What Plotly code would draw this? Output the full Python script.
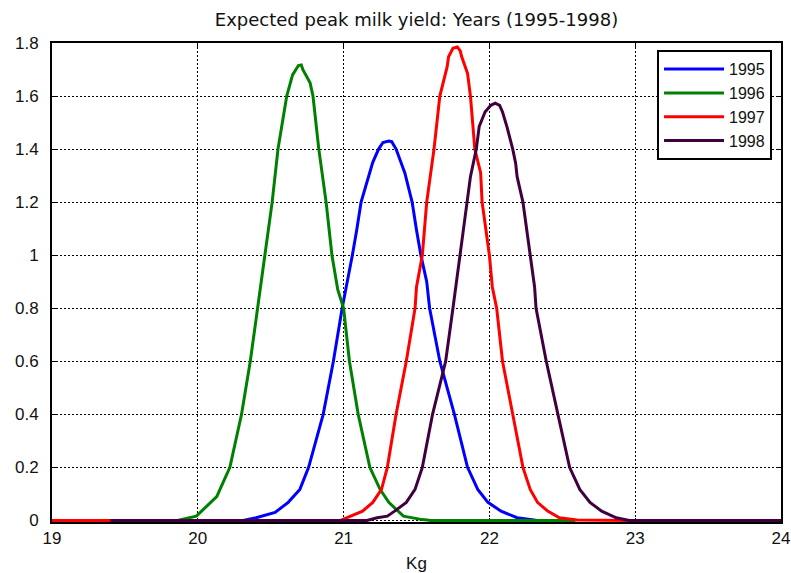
import plotly.graph_objects as go

# ---- data ----
x_1995 = [20.31, 20.40, 20.53, 20.62, 20.70, 20.76, 20.86, 20.93, 20.99, 21.03, 21.06, 21.09, 21.12,
          21.20, 21.24, 21.27, 21.31, 21.33, 21.36, 21.42, 21.47, 21.50, 21.53, 21.57, 21.59, 21.66,
          21.76, 21.85, 21.92, 21.99, 22.08, 22.19, 22.33]
y_1995 = [0.0, 0.01, 0.03, 0.068, 0.117, 0.2, 0.4, 0.6, 0.8, 0.907, 1.0, 1.095, 1.2,
          1.35, 1.4, 1.425, 1.43, 1.428, 1.4, 1.31, 1.2, 1.095, 1.0, 0.9, 0.8, 0.6,
          0.4, 0.2, 0.117, 0.068, 0.035, 0.01, 0.0]

x_1996 = [19.86, 19.99, 20.13, 20.22, 20.30, 20.36, 20.41, 20.46, 20.51, 20.55, 20.61, 20.65, 20.69,
          20.71, 20.72, 20.77, 20.79, 20.83, 20.88, 20.92, 20.96, 21.00, 21.04, 21.10, 21.18, 21.25,
          21.31, 21.41, 21.54, 21.60, 22.59]
y_1996 = [0.0, 0.016, 0.09, 0.2, 0.4, 0.6, 0.8, 1.0, 1.2, 1.4, 1.6, 1.68, 1.715,
          1.717, 1.70, 1.65, 1.6, 1.4, 1.2, 1.0, 0.87, 0.8, 0.6, 0.4, 0.2, 0.117,
          0.068, 0.016, 0.003, 0.0, 0.0]

x_1997 = [19.0, 20.98, 21.02, 21.13, 21.20, 21.26, 21.30, 21.36, 21.43, 21.49, 21.50, 21.54, 21.57,
          21.62, 21.66, 21.71, 21.72, 21.75, 21.78, 21.80, 21.81, 21.85, 21.87, 21.90, 21.94, 21.95,
          22.00, 22.02, 22.05, 22.09, 22.16, 22.23, 22.28, 22.33, 22.40, 22.48, 22.60, 22.96, 24.0]
y_1997 = [0.0, 0.0, 0.01, 0.035, 0.068, 0.117, 0.2, 0.4, 0.6, 0.8, 0.88, 1.0, 1.2,
          1.4, 1.6, 1.71, 1.748, 1.78, 1.785, 1.77, 1.748, 1.686, 1.6, 1.4, 1.31, 1.2,
          1.0, 0.88, 0.8, 0.6, 0.4, 0.2, 0.117, 0.068, 0.035, 0.01, 0.002, 0.0, 0.0]

x_1998 = [19.4, 21.16, 21.23, 21.30, 21.35, 21.43, 21.49, 21.54, 21.61, 21.70, 21.75, 21.77, 21.80,
          21.85, 21.87, 21.91, 21.93, 21.97, 22.01, 22.04, 22.07, 22.09, 22.12, 22.16, 22.18, 22.19,
          22.23, 22.28, 22.31, 22.32, 22.39, 22.47, 22.55, 22.62, 22.69, 22.77, 22.87, 22.96, 24.0]
y_1998 = [0.0, 0.0, 0.01, 0.016, 0.035, 0.068, 0.117, 0.2, 0.4, 0.6, 0.8, 0.88, 1.0,
          1.2, 1.296, 1.4, 1.485, 1.54, 1.565, 1.573, 1.565, 1.54, 1.485, 1.4, 1.347, 1.296,
          1.2, 1.0, 0.88, 0.8, 0.6, 0.4, 0.2, 0.117, 0.068, 0.035, 0.01, 0.0, 0.0]

series_names = ["1995", "1996", "1997", "1998"]
series_colors = ["#0000FF", "#008000", "#FF0000", "#400040"]
series_x = [x_1995, x_1996, x_1997, x_1998]
series_y = [y_1995, y_1996, y_1997, y_1998]

title_text = "Expected peak milk yield: Years (1995-1998)"
x_label = "Kg"

FONT = "Liberation Sans, Arial, sans-serif"
TITLE_FONT = "DejaVu Sans, sans-serif"

fig = go.Figure()
for name, col, xs, ys in zip(series_names, series_colors, series_x, series_y):
    fig.add_trace(go.Scatter(x=xs, y=ys, mode="lines", name=name,
                             line=dict(color=col, width=3)))

axis_common = dict(
    showline=True, linecolor="black", linewidth=2, mirror="ticks",
    ticks="inside", ticklen=4, tickcolor="black", tickwidth=1,
    showgrid=True, gridcolor="black", gridwidth=1, griddash="2px,2px",
    zeroline=False, layer="below traces", automargin=False,
    tickfont=dict(family=FONT, size=17, color="#111111"),
)

fig.update_xaxes(range=[19, 24], dtick=1, tick0=19, ticklabelstandoff=0,
                 title=dict(text=x_label, font=dict(family=FONT, size=17, color="#111111"), standoff=12),
                 **axis_common)
fig.update_yaxes(range=[-0.006, 1.8], dtick=0.2, tick0=0, ticklabelstandoff=8,
                 **axis_common)

fig.update_layout(
    width=791, height=573,
    margin=dict(l=52, r=10, t=43, b=51, autoexpand=False),
    paper_bgcolor="white", plot_bgcolor="white",
    title=dict(text=title_text, x=0.5, xref="paper", y=1 - 20 / 573, yref="container",
               xanchor="center", yanchor="middle",
               font=dict(family=TITLE_FONT, size=18, color="#111111")),
    legend=dict(x=0.9877, y=0.985, xanchor="right", yanchor="top",
                bordercolor="black", borderwidth=2, bgcolor="white",
                font=dict(family=FONT, size=16, color="#111111"),
                tracegroupgap=0, itemwidth=60),
    showlegend=True,
)

fig.write_html("out.html")
